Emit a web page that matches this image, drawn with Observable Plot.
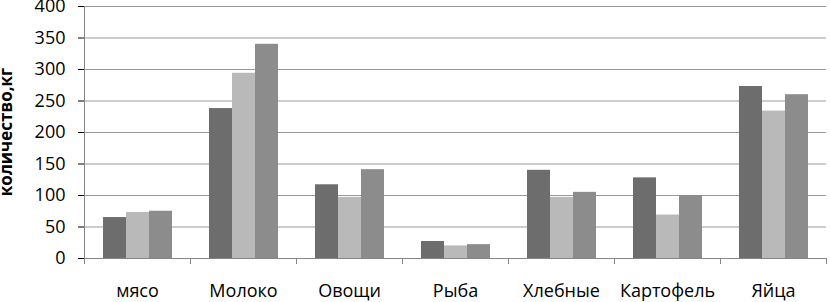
<!DOCTYPE html>
<html>
<head>
<meta charset="utf-8">
<script src="https://cdn.jsdelivr.net/npm/d3@7"></script>
<script src="https://cdn.jsdelivr.net/npm/@observablehq/plot@0.6"></script>
<style>
  html, body { margin: 0; padding: 0; background: #fff; }
</style>
</head>
<body>
<div id="chart"></div>
<script>
const categories = ["мясо", "Молоко", "Овощи", "Рыба", "Хлебные", "Картофель", "Яйца"];
const series = ["Ряд1", "Ряд2", "Ряд3"];
const values1 = [65, 238, 117, 27, 140, 128, 273];
const values2 = [73, 294, 97, 20, 97, 69, 234];
const values3 = [75, 340, 141, 22, 105, 100, 260];
const yTicks = [0, 50, 100, 150, 200, 250, 300, 350, 400];
const yTitle = "количество,кг";

const seriesValues = [values1, values2, values3];
const data = [];
categories.forEach((c, i) => {
  series.forEach((s, j) => data.push({category: c, series: s, value: seriesValues[j][i]}));
});

const chart = Plot.plot({
  width: 830,
  height: 302,
  marginLeft: 82,
  marginRight: 2,
  marginTop: 6,
  marginBottom: 44,
  style: {fontFamily: "'Open Sans', sans-serif", fontSize: "18px", color: "#000", background: "#fff"},
  fx: {domain: categories, padding: 0, label: null, axis: "bottom", tickSize: 0, tickPadding: 26},
  x: {domain: series, paddingInner: 0, paddingOuter: 0.75, axis: null},
  y: {domain: [0, 400], ticks: yTicks, tickSize: 6, tickPadding: 13, label: null},
  color: {domain: series, range: ["#6d6d6d", "#b9b9b9", "#8c8c8c"]},
  marks: [
    Plot.gridY(yTicks, {stroke: "#9a9a9a", strokeOpacity: 1}),
    Plot.barY(data, {fx: "category", x: "series", y: "value", fill: "series"})
  ]
});

document.getElementById("chart").appendChild(chart);

const svg = d3.select(chart);
const y = chart.scale("y");
const fx = chart.scale("fx");
const y0 = y.apply(0), y1 = y.apply(400);
const left = fx.apply(categories[0]);
const right = fx.apply(categories[categories.length - 1]) + fx.bandwidth;
const g = svg.append("g").attr("stroke", "#868686").attr("stroke-width", 1);
g.append("line").attr("x1", left + 0.5).attr("x2", left + 0.5).attr("y1", y1).attr("y2", y0 + 6);
g.append("line").attr("x1", left).attr("x2", right).attr("y1", y0 + 0.5).attr("y2", y0 + 0.5);
const bounds = categories.map(c => fx.apply(c)).concat([right]);
bounds.forEach(b => {
  const xb = Math.min(Math.round(b) + 0.5, 829.5);
  g.append("line").attr("x1", xb).attr("x2", xb).attr("y1", y0).attr("y2", y0 + 6);
});
svg.append("text")
  .attr("transform", `translate(12,${(y0 + y1) / 2}) rotate(-90)`)
  .attr("text-anchor", "middle")
  .attr("font-weight", "bold")
  .attr("font-size", 17)
  .attr("fill", "#000")
  .text(yTitle);
</script>
</body>
</html>
